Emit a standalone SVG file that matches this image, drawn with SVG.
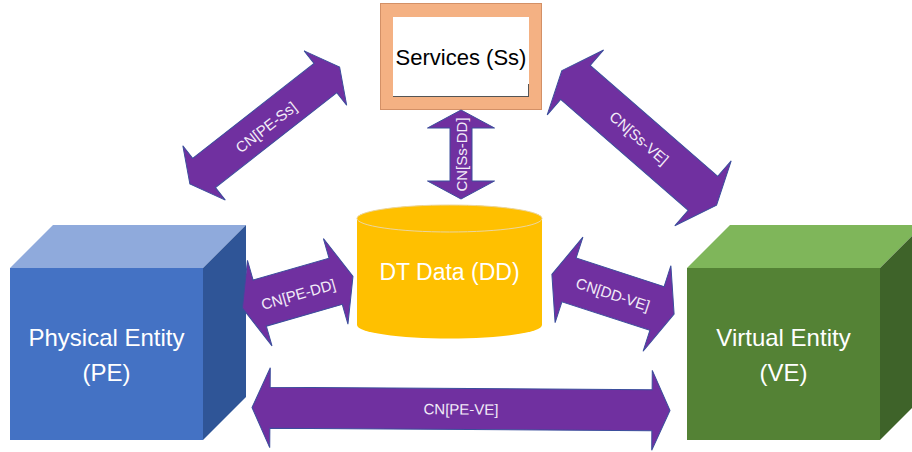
<svg xmlns="http://www.w3.org/2000/svg" width="912" height="452" viewBox="0 0 912 452">
  <style>
    .lbl { font-family: "Liberation Sans", Arial, sans-serif; fill: #ffffff; text-anchor: middle; }
    .cn { font-family: "Liberation Sans", Arial, sans-serif; font-size: 15px; fill: #F3ECF8; text-anchor: middle; dominant-baseline: central; }
    .arrow { fill: #7030A0; stroke: #3B4E9C; stroke-width: 1; stroke-linejoin: miter; }
  </style>

  <rect x="0" y="0" width="912" height="452" fill="#ffffff"/>

  <!-- Services box -->
  <g id="services">
    <rect x="380.5" y="3.5" width="161" height="106" fill="#F4B183" stroke="#D39066" stroke-width="1"/>
    <rect x="393" y="17" width="136" height="80" fill="#ffffff"/>
    <line x1="393" y1="96.5" x2="529" y2="96.5" stroke="#555555" stroke-width="1"/>
    <line x1="528.5" y1="84" x2="528.5" y2="97" stroke="#555555" stroke-width="1"/>
    <text x="461" y="65" style="font-family:'Liberation Sans', Arial, sans-serif; font-size:22px; fill:#000000; text-anchor:middle;">Services (Ss)</text>
  </g>

  <!-- DT data cylinder -->
  <g id="dd">
    <path d="M357,218.5 A92.5,13.5 0 0 1 542,218.5 L542,325 A92.5,13.5 0 0 1 357,325 Z" fill="#FFC000"/>
    <ellipse cx="449.5" cy="218.5" rx="92.5" ry="13.5" fill="#FFC000" stroke="#EBD6A0" stroke-width="1"/>
    <text class="lbl" x="449.5" y="280" font-size="23">DT Data (DD)</text>
  </g>

  <!-- Physical entity cube -->
  <g id="pe">
    <polygon points="10,268 53,225 246,225 203,268" fill="#8FAADC"/>
    <polygon points="203,268 246,225 246,397 203,440" fill="#2F5597"/>
    <rect x="10" y="268" width="193" height="172" fill="#4472C4"/>
    <text class="lbl" x="106.5" y="346" font-size="24">Physical Entity</text>
    <text class="lbl" x="106.5" y="381" font-size="24">(PE)</text>
  </g>

  <!-- Virtual entity cube -->
  <g id="ve">
    <polygon points="687,268 730,225 923,225 880,268" fill="#7FB65A"/>
    <polygon points="880,268 923,225 923,397 880,440" fill="#3E6329"/>
    <rect x="687" y="268" width="193" height="172" fill="#548235"/>
    <text class="lbl" x="783.5" y="346" font-size="24">Virtual Entity</text>
    <text class="lbl" x="783.5" y="381" font-size="24">(VE)</text>
  </g>

  <!-- Double-headed connectors, each drawn along +x and then placed -->
  <g id="connectors">
    <g transform="translate(264.75,125.5) rotate(-38)">
      <path class="arrow" d="M-95,0 L-77,-34.5 L-77,-18.5 L77,-18.5 L77,-34.5 L95,0 L77,34.5 L77,18.5 L-77,18.5 L-77,34.5 Z"/>
      <text class="cn" x="0" y="2">CN[PE-Ss]</text>
    </g>
    <g transform="translate(639.2,137.9) rotate(41)">
      <path class="arrow" d="M-102.5,0 L-84.5,-43 L-84.5,-22.5 L84.5,-22.5 L84.5,-43 L102.5,0 L84.5,43 L84.5,22.5 L-84.5,22.5 L-84.5,43 Z"/>
      <text class="cn" x="0" y="0">CN[Ss-VE]</text>
    </g>
    <g transform="translate(461,154.5) rotate(-90)">
      <path class="arrow" d="M-44.5,0 L-26.5,-33.5 L-26.5,-11 L26.5,-11 L26.5,-33.5 L44.5,0 L26.5,33.5 L26.5,11 L-26.5,11 L-26.5,33.5 Z"/>
      <text class="cn" x="0" y="0">CN[Ss-DD]</text>
    </g>
    <g transform="translate(297.7,292.2) rotate(-16)">
      <path class="arrow" d="M-57.5,0 L-39.5,-44.5 L-39.5,-24 L39.5,-24 L39.5,-44.5 L57.5,0 L39.5,44.5 L39.5,24 L-39.5,24 L-39.5,44.5 Z"/>
      <text class="cn" x="0" y="2">CN[PE-DD]</text>
    </g>
    <g transform="translate(613,294.2) rotate(18)">
      <path class="arrow" d="M-64.25,0 L-46.25,-45 L-46.25,-23 L46.25,-23 L46.25,-45 L64.25,0 L46.25,45 L46.25,23 L-46.25,23 L-46.25,45 Z"/>
      <text class="cn" x="0" y="0">CN[DD-VE]</text>
    </g>
    <g transform="translate(461,409) rotate(0.4)">
      <path class="arrow" d="M-209,0 L-191,-40 L-191,-20.5 L191,-20.5 L191,-40 L209,0 L191,40 L191,20.5 L-191,20.5 L-191,40 Z"/>
      <text class="cn" x="0" y="0">CN[PE-VE]</text>
    </g>
  </g>
</svg>
